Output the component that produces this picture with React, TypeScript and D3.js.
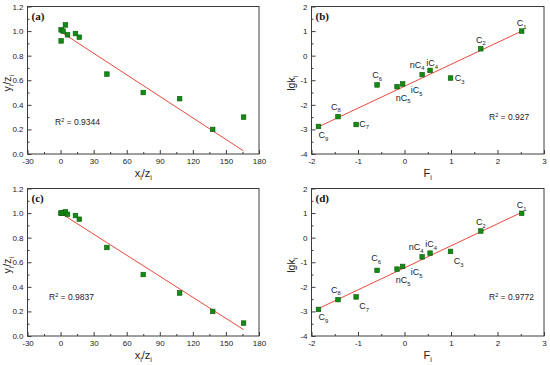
import { useEffect, useRef } from 'react'
import * as d3 from 'd3'

const W = 550
const H = 365
const FONT = 'Arial, "Liberation Sans", Helvetica, sans-serif'
const GREEN = '#138a13'
const GREEN_EDGE = '#0b5a0b'
const RED = '#e8493f'
const FRAME = '#3c3c3c'
const TEXT = '#222'

// ── Data: panels (a) and (c) ──────────────────────────────────────────────────
const xzA = [0.5, 0.5, 2.3, 4.4, 6.3, 13.5, 17, 42, 75, 108, 138, 166]
const yzA = [1.01, 0.92, 1.0, 1.05, 0.97, 0.98, 0.95, 0.65, 0.5, 0.45, 0.2, 0.3]
const xzC = [0.5, 0.5, 2.3, 4.4, 6.3, 13.5, 17, 42, 75, 108, 138, 166]
const yzC = [1.0, 1.0, 1.0, 1.01, 0.99, 0.98, 0.95, 0.72, 0.5, 0.35, 0.2, 0.105]
const fitAx = [0, 166]
const fitAy = [0.995, 0.025]
const fitCx = [0, 166]
const fitCy = [1.0, 0.052]
const xzTicks = [-30, 0, 30, 60, 90, 120, 150, 180]
const yzTicks = [0, 0.2, 0.4, 0.6, 0.8, 1.0, 1.2]

// ── Data: panels (b) and (d) ──────────────────────────────────────────────────
const compBase = ['C', 'C', 'C', 'iC', 'nC', 'iC', 'nC', 'C', 'C', 'C', 'C']
const compSub = ['1', '2', '3', '4', '4', '5', '5', '6', '7', '8', '9']
const fValues = [2.52, 1.64, 0.99, 0.55, 0.38, -0.04, -0.16, -0.59, -1.04, -1.43, -1.85]
const lgkB = [1.0, 0.28, -0.91, -0.6, -0.77, -1.15, -1.26, -1.19, -2.8, -2.48, -2.88]
const lgkD = [0.99, 0.27, -0.56, -0.63, -0.78, -1.17, -1.28, -1.33, -2.41, -2.52, -2.92]
const fitBx = [-1.88, 2.52]
const fitBy = [-2.92, 1.0]
const fitDx = [-1.9, 2.52]
const fitDy = [-2.93, 1.03]
const fTicks = [-2, -1, 0, 1, 2, 3]
const lgkTicks = [-4, -3, -2, -1, 0, 1, 2]

const r2Values = ['0.9344', '0.927', '0.9837', '0.9772']

// label offsets (px) from the marker centre
const offsB: [number, number][] = [[0, -8], [0, -9], [9, 0], [2, -7], [-5, -10], [14, 6], [6, 11], [0, -10], [8, -1], [-2, -10], [5, 9]]
const offsD: [number, number][] = [[0, -8], [0, -9], [8, 10], [1, -9], [-6, -10], [14, 6], [6, 11], [-1, -12], [8, 9], [-2, -10], [5, 8]]

type Part = [string, 'n' | 'sub' | 'sup']

interface Panel {
  tag: string
  left: number; right: number; top: number; bottom: number
  xDomain: [number, number]; yDomain: [number, number]
  xTicks: number[]; yTicks: number[]
  yFmt: (d: number) => string
  xs: number[]; ys: number[]
  fitX: number[]; fitY: number[]
  xTitle: Part[]; yTitle: Part[]
  r2: string; r2x: number; r2y: number
  labels?: [number, number][]
}

function richText(sel: d3.Selection<SVGTextElement, unknown, null, undefined>, parts: Part[], size: number) {
  let shift = 0
  parts.forEach(([t, kind]) => {
    const target = kind === 'sub' ? size * 0.3 : kind === 'sup' ? -size * 0.38 : 0
    const fs = kind === 'n' ? size : size * 0.65
    sel.append('tspan')
      .attr('dy', target - shift)
      .attr('font-size', fs)
      .text(t)
    shift = target
  })
}

function drawPanel(svg: d3.Selection<SVGSVGElement, unknown, null, undefined>, p: Panel) {
  const g = svg.append('g')
  const x = d3.scaleLinear(p.xDomain, [p.left, p.right])
  const y = d3.scaleLinear(p.yDomain, [p.bottom, p.top])

  const xMinor = d3.pairs(p.xTicks).map(([a, b]) => (a + b) / 2)
  const yMinor = d3.pairs(p.yTicks).map(([a, b]) => (a + b) / 2)

  const styleAxis = (ag: d3.Selection<SVGGElement, unknown, null, undefined>) => {
    ag.select('.domain').remove()
    ag.selectAll('.tick line').attr('stroke', FRAME)
    ag.selectAll('text').attr('fill', TEXT).attr('font-size', 8).attr('font-family', FONT)
  }

  g.append('g')
    .attr('transform', `translate(0,${p.bottom})`)
    .call(d3.axisBottom(x).tickValues(p.xTicks).tickSizeInner(-4).tickSizeOuter(0).tickPadding(4)
      .tickFormat(d => String(d)))
    .call(styleAxis)
  g.append('g')
    .attr('transform', `translate(0,${p.bottom})`)
    .call(d3.axisBottom(x).tickValues(xMinor).tickSizeInner(-2).tickSizeOuter(0).tickFormat(() => ''))
    .call(styleAxis)
  g.append('g')
    .attr('transform', `translate(${p.left},0)`)
    .call(d3.axisLeft(y).tickValues(p.yTicks).tickSizeInner(-4).tickSizeOuter(0).tickPadding(4)
      .tickFormat(d => p.yFmt(d as number)))
    .call(styleAxis)
  g.append('g')
    .attr('transform', `translate(${p.left},0)`)
    .call(d3.axisLeft(y).tickValues(yMinor).tickSizeInner(-2).tickSizeOuter(0).tickFormat(() => ''))
    .call(styleAxis)

  g.append('rect')
    .attr('x', p.left).attr('y', p.top)
    .attr('width', p.right - p.left).attr('height', p.bottom - p.top)
    .attr('fill', 'none').attr('stroke', FRAME).attr('stroke-width', 1)

  // fit line
  g.append('line')
    .attr('x1', x(p.fitX[0])).attr('y1', y(p.fitY[0]))
    .attr('x2', x(p.fitX[1])).attr('y2', y(p.fitY[1]))
    .attr('stroke', RED).attr('stroke-width', 1)

  // markers
  g.selectAll('rect.pt')
    .data(p.xs.map((v, i) => [v, p.ys[i]]))
    .join('rect')
    .attr('class', 'pt')
    .attr('x', d => x(d[0]) - 2.3).attr('y', d => y(d[1]) - 2.3)
    .attr('width', 4.6).attr('height', 4.6)
    .attr('fill', GREEN).attr('stroke', GREEN_EDGE).attr('stroke-width', 0.6)

  // component labels
  if (p.labels) {
    p.xs.forEach((v, i) => {
      const [dx, dy] = p.labels![i]
      const t = g.append('text')
        .attr('x', x(v) + dx).attr('y', y(p.ys[i]) + dy + 3)
        .attr('text-anchor', 'middle')
        .attr('font-family', FONT).attr('font-size', 9).attr('fill', TEXT)
      richText(t, [[compBase[i], 'n'], [compSub[i], 'sub']], 9)
    })
  }

  // panel tag
  g.append('text')
    .attr('x', p.left + 4).attr('y', p.top + 13)
    .attr('font-family', '"Liberation Serif", "Times New Roman", serif')
    .attr('font-weight', 'bold').attr('font-size', 11).attr('fill', '#111')
    .text(p.tag)

  // R²
  const r = g.append('text')
    .attr('x', p.r2x).attr('y', p.r2y)
    .attr('font-family', FONT).attr('font-size', 8.5).attr('fill', TEXT)
  richText(r, [['R', 'n'], ['2', 'sup'], [` = ${p.r2}`, 'n']], 8.5)

  // axis titles
  const xt = g.append('text')
    .attr('x', (p.left + p.right) / 2).attr('y', p.bottom + 23)
    .attr('text-anchor', 'middle')
    .attr('font-family', FONT).attr('font-size', 11).attr('fill', TEXT)
  richText(xt, p.xTitle, 11)

  const yt = g.append('text')
    .attr('transform', `translate(${p.left - 17},${(p.top + p.bottom) / 2 + 3}) rotate(-90)`)
    .attr('text-anchor', 'middle')
    .attr('font-family', FONT).attr('font-size', 10.5).attr('fill', TEXT)
  richText(yt, p.yTitle, 10.5)
}

export default function App() {
  const svgRef = useRef<SVGSVGElement>(null)

  useEffect(() => {
    const el = svgRef.current
    if (!el) return
    const svg = d3.select(el)
    svg.selectAll('*').remove()

    const yzFmt = d3.format('.1f')
    const intFmt = (d: number) => String(d)
    const xzTitle: Part[] = [['x', 'n'], ['i', 'sub'], ['/z', 'n'], ['i', 'sub']]
    const yzTitle: Part[] = [['y', 'n'], ['i', 'sub'], ['/z', 'n'], ['i', 'sub']]
    const fTitle: Part[] = [['F', 'n'], ['i', 'sub']]
    const lgkTitle: Part[] = [['lgk', 'n'], ['i', 'sub']]

    const panels: Panel[] = [
      {
        tag: '(a)', left: 27.5, right: 259, top: 6.5, bottom: 154,
        xDomain: [-30, 180], yDomain: [0, 1.2], xTicks: xzTicks, yTicks: yzTicks, yFmt: yzFmt,
        xs: xzA, ys: yzA, fitX: fitAx, fitY: fitAy, xTitle: xzTitle, yTitle: yzTitle,
        r2: r2Values[0], r2x: 55, r2y: 125,
      },
      {
        tag: '(b)', left: 311.5, right: 544, top: 6.5, bottom: 154,
        xDomain: [-2, 3], yDomain: [-4, 2], xTicks: fTicks, yTicks: lgkTicks, yFmt: intFmt,
        xs: fValues, ys: lgkB, fitX: fitBx, fitY: fitBy, xTitle: fTitle, yTitle: lgkTitle,
        r2: r2Values[1], r2x: 489, r2y: 120, labels: offsB,
      },
      {
        tag: '(c)', left: 27.5, right: 259, top: 188.5, bottom: 336,
        xDomain: [-30, 180], yDomain: [0, 1.2], xTicks: xzTicks, yTicks: yzTicks, yFmt: yzFmt,
        xs: xzC, ys: yzC, fitX: fitCx, fitY: fitCy, xTitle: xzTitle, yTitle: yzTitle,
        r2: r2Values[2], r2x: 49, r2y: 300,
      },
      {
        tag: '(d)', left: 311.5, right: 544, top: 188.5, bottom: 336,
        xDomain: [-2, 3], yDomain: [-4, 2], xTicks: fTicks, yTicks: lgkTicks, yFmt: intFmt,
        xs: fValues, ys: lgkD, fitX: fitDx, fitY: fitDy, xTitle: fTitle, yTitle: lgkTitle,
        r2: r2Values[3], r2x: 489, r2y: 300, labels: offsD,
      },
    ]
    panels.forEach(p => drawPanel(svg, p))
  }, [])

  return (
    <div style={{ position: 'absolute', left: 0, top: 0, width: W, height: H, background: '#fff' }}>
      <svg ref={svgRef} width={W} height={H} style={{ display: 'block' }} />
    </div>
  )
}
